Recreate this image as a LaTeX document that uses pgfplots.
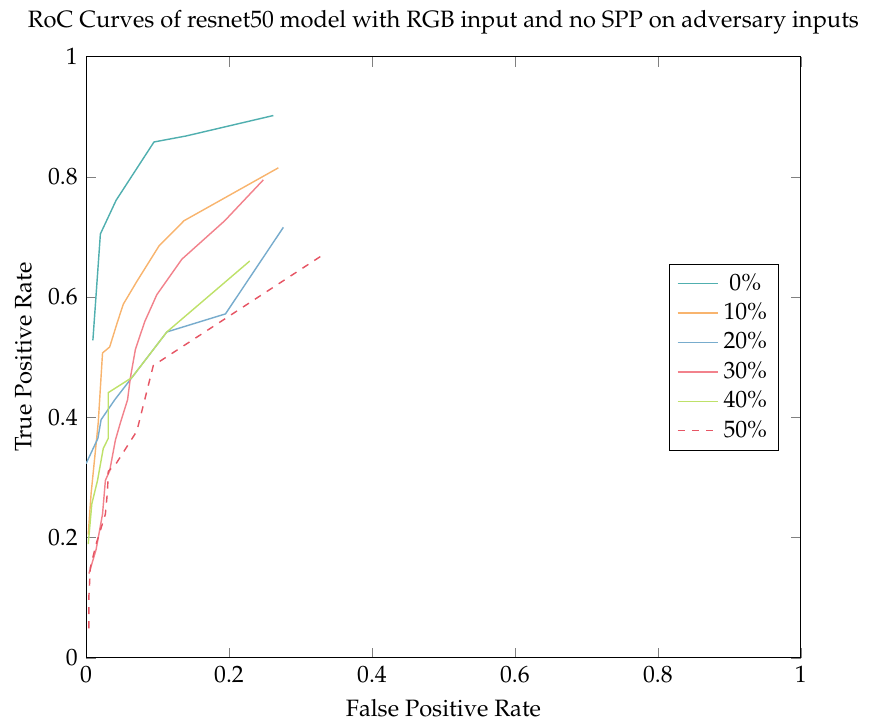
\documentclass[border=0pt]{standalone}
\usepackage[T1]{fontenc}
\usepackage{mathpazo}
\usepackage{pgfplots}
\pgfplotsset{compat=1.18}
\definecolor{cA}{RGB}{80,175,175}
\definecolor{cB}{RGB}{248,180,110}
\definecolor{cC}{RGB}{120,172,205}
\definecolor{cD}{RGB}{242,130,140}
\definecolor{cE}{RGB}{190,225,105}
\definecolor{cF}{RGB}{230,85,100}
\begin{document}
\begin{tikzpicture}
\begin{axis}[
  scale only axis,
  width=302pt, height=254pt,
  xmin=0, xmax=1, ymin=0, ymax=1,
  xtick={0,0.2,0.4,0.6,0.8,1},
  ytick={0,0.2,0.4,0.6,0.8,1},
  title={RoC Curves of resnet50 model with RGB input and no SPP on adversary inputs},
  xlabel={False Positive Rate},
  ylabel={True Positive Rate},
  legend style={at={(0.97,0.5)}, anchor=east, font=\normalsize},
  every axis plot/.append style={line width=0.6pt},
]
\addplot[cA] coordinates {(0.0095,0.528) (0.020,0.705) (0.042,0.761) (0.095,0.858) (0.140,0.868) (0.262,0.902)};
\addlegendentry{0\%}
\addplot[cB] coordinates {(0.003,0.205) (0.007,0.273) (0.017,0.391) (0.023,0.507) (0.033,0.517) (0.044,0.559) (0.052,0.588) (0.071,0.626) (0.102,0.685) (0.137,0.727) (0.269,0.815)};
\addlegendentry{10\%}
\addplot[cC] coordinates {(0.000,0.323) (0.0165,0.365) (0.021,0.396) (0.040,0.429) (0.064,0.466) (0.113,0.542) (0.195,0.572) (0.276,0.716)};
\addlegendentry{20\%}
\addplot[cD] coordinates {(0.004,0.140) (0.014,0.180) (0.023,0.239) (0.027,0.295) (0.033,0.311) (0.041,0.362) (0.048,0.391) (0.058,0.429) (0.062,0.466) (0.069,0.513) (0.082,0.559) (0.099,0.604) (0.134,0.663) (0.194,0.727) (0.248,0.795)};
\addlegendentry{30\%}
\addplot[cE] coordinates {(0.003,0.189) (0.008,0.256) (0.016,0.295) (0.024,0.348) (0.031,0.365) (0.031,0.441) (0.064,0.466) (0.113,0.542) (0.229,0.660)};
\addlegendentry{40\%}
\addplot[cF, dashed] coordinates {(0.004,0.049) (0.004,0.104) (0.006,0.150) (0.014,0.189) (0.027,0.239) (0.030,0.278) (0.031,0.310) (0.042,0.323) (0.071,0.377) (0.094,0.486) (0.335,0.673)};
\addlegendentry{50\%}
\end{axis}
\path (current bounding box.south west) ++(-3pt,0pt) (current bounding box.north east) ++(3pt,1pt);
\end{tikzpicture}
\end{document}
